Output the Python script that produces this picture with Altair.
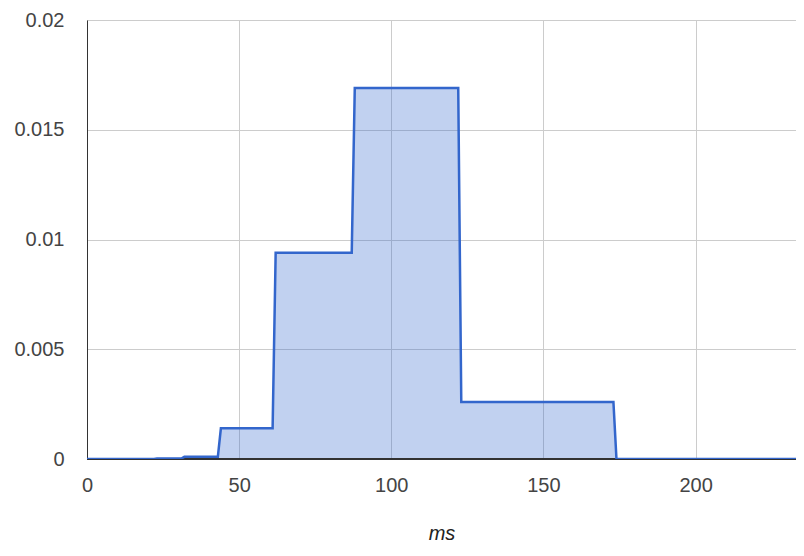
import altair as alt
import pandas as pd

ms = [0, 22, 23, 31, 32, 43, 44, 61, 62, 87, 88, 122, 123, 173, 174, 235]
density = [0, 0, 0.00002, 0.00002, 0.0001, 0.0001, 0.0014, 0.0014, 0.0094, 0.0094,
           0.0169, 0.0169, 0.0026, 0.0026, 0, 0]
x_ticks = [0, 50, 100, 150, 200]
y_ticks = [0, 0.005, 0.01, 0.015, 0.02]

df = pd.DataFrame({"ms": ms, "density": density})

font = "Liberation Sans"
W, H = 709, 439

x_enc = alt.X("ms:Q", title="ms",
              scale=alt.Scale(domain=[0, 233], nice=False, zero=False, clamp=True),
              axis=alt.Axis(values=x_ticks, ticks=False, domain=False, labelPadding=16,
                            labelFont=font, labelFontSize=20, labelColor="#444",
                            titleFont=font, titleFontSize=20, titleFontStyle="italic",
                            titleFontWeight="normal", titleColor="#222", titlePadding=28,
                            gridColor="#cccccc", labelFlush=False))
y_enc = alt.Y("density:Q", title=None,
              scale=alt.Scale(domain=[0, 0.02], nice=False),
              axis=alt.Axis(values=y_ticks, ticks=False, domain=True, domainColor="#333",
                            labelPadding=23, format=".3~f",
                            labelFont=font, labelFontSize=20, labelColor="#444",
                            gridColor="#cccccc"))

area = alt.Chart(df).mark_area(color="#3366cc", opacity=0.3, clip=True).encode(x=x_enc, y=y_enc)
line = alt.Chart(df).mark_line(color="#3366cc", strokeWidth=2.5, clip=True).encode(
    x="ms:Q", y="density:Q")
base = alt.Chart(df).mark_rule(color="#333", strokeWidth=1).encode(
    x=alt.value(0), x2=alt.value(W), y=alt.value(H))

chart = alt.layer(area, base, line).properties(
    width=W, height=H,
    autosize=alt.AutoSizeParams(type="none"),
    padding={"left": 79, "top": 12, "right": 0, "bottom": 89},
).configure_view(stroke=None).configure(background="white")

chart.save("out.html", embed_options={"renderer": "svg", "actions": False})
